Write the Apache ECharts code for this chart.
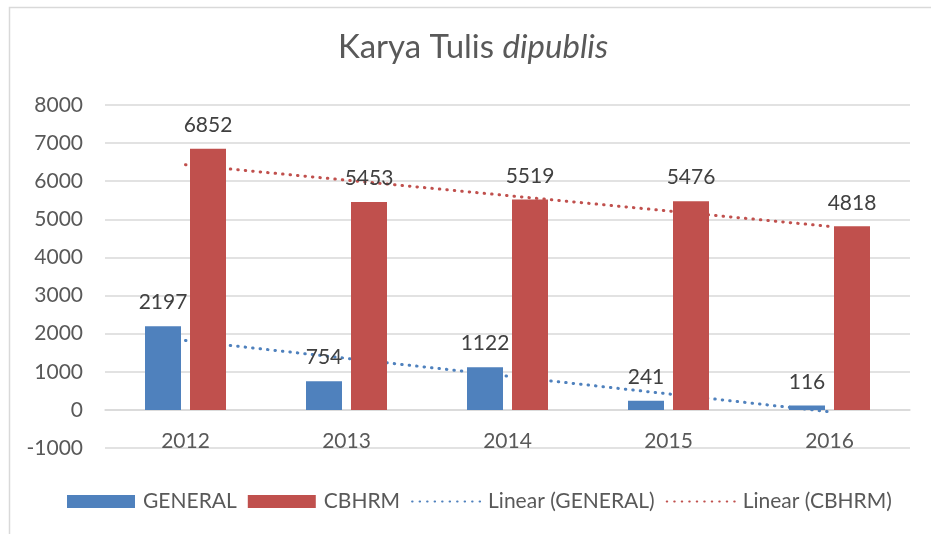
<!DOCTYPE html>
<html>
<head>
<meta charset="utf-8">
<script src="https://cdn.jsdelivr.net/npm/echarts@6/dist/echarts.min.js"></script>
<style>html,body{margin:0;padding:0;background:#fff}#c{width:931px;height:534px}</style>
</head>
<body>
<div id="c"></div>
<script>
var categories = ['2012', '2013', '2014', '2015', '2016'];
var generalValues = [2197, 754, 1122, 241, 116];
var cbhrmValues = [6852, 5453, 5519, 5476, 4818];
var seriesNames = ['GENERAL', 'CBHRM', 'Linear (GENERAL)', 'Linear (CBHRM)'];
var yTicks = { min: -1000, max: 8000, interval: 1000 };

// Excel-style linear trendline (least squares on x = 1..n)
function linearTrend(vals) {
  var n = vals.length, sx = 0, sy = 0, sxx = 0, sxy = 0;
  for (var i = 0; i < n; i++) { var x = i + 1; sx += x; sy += vals[i]; sxx += x * x; sxy += x * vals[i]; }
  var b = (n * sxy - sx * sy) / (n * sxx - sx * sx);
  var a = (sy - b * sx) / n;
  return vals.map(function (_, i) { return a + b * (i + 1); });
}

var BLUE = '#4F81BD', RED = '#C0504D';
var FONT = 'Lato';
var chart = echarts.init(document.getElementById('c'), null, { renderer: 'canvas' });
var dotted = { width: 3, type: [0.5, 7], cap: 'round' };
var hiddenSym = { color: 'rgba(0,0,0,0)', borderWidth: 0, opacity: 0 };
chart.setOption({
  backgroundColor: '#fff',
  animation: false,
  graphic: [{
    type: 'rect', silent: true, z: -10,
    shape: { x: 9.5, y: 7.5, width: 940, height: 540 },
    style: { fill: 'none', stroke: '#d9d9d9', lineWidth: 1.5 }
  }],
  title: {
    text: '{a|Karya Tulis }{b|dipublis}',
    left: 468, top: 26, textAlign: 'center',
    textStyle: {
      fontWeight: 'normal',
      rich: {
        a: { fontFamily: FONT, fontSize: 33, color: '#595959', fontWeight: 'normal' },
        b: { fontFamily: FONT, fontSize: 33, color: '#595959', fontWeight: 'normal', fontStyle: 'italic' }
      }
    }
  },
  legend: {
    left: 62, top: 486,
    itemWidth: 68, itemHeight: 13, itemGap: 11,
    textStyle: { fontFamily: FONT, fontSize: 21, color: '#595959', padding: [0, 0, 0, 3] },
    data: [
      { name: seriesNames[0], icon: 'rect' },
      { name: seriesNames[1], icon: 'rect' },
      { name: seriesNames[2], itemStyle: hiddenSym },
      { name: seriesNames[3], itemStyle: hiddenSym }
    ]
  },
  grid: { left: 105, right: 21, top: 105, bottom: 86, containLabel: false },
  xAxis: {
    type: 'category', data: categories,
    axisLine: { onZero: true, lineStyle: { color: '#d9d9d9', width: 1.5 } },
    axisTick: { show: false },
    axisLabel: { fontFamily: FONT, fontSize: 21, color: '#595959', margin: -17 }
  },
  yAxis: {
    type: 'value', min: yTicks.min, max: yTicks.max, interval: yTicks.interval,
    axisLine: { show: false }, axisTick: { show: false },
    axisLabel: { fontFamily: FONT, fontSize: 21, color: '#595959', margin: 22,
      formatter: function (v) { return String(v); } },
    splitLine: { lineStyle: { color: '#d9d9d9', width: 1.5 } }
  },
  series: [
    {
      name: seriesNames[0], type: 'bar', data: generalValues, z: 3,
      barWidth: 36, barGap: '25%',
      itemStyle: { color: BLUE },
      label: { show: true, position: 'top', distance: 13, fontFamily: FONT, fontSize: 21, color: '#404040' }
    },
    {
      name: seriesNames[1], type: 'bar', data: cbhrmValues, z: 3,
      barWidth: 36,
      itemStyle: { color: RED },
      label: { show: true, position: 'top', distance: 13, fontFamily: FONT, fontSize: 21, color: '#404040' }
    },
    {
      name: seriesNames[2], type: 'line', data: linearTrend(generalValues), z: 1,
      symbol: 'none', silent: true, color: BLUE,
      lineStyle: Object.assign({ color: BLUE }, dotted)
    },
    {
      name: seriesNames[3], type: 'line', data: linearTrend(cbhrmValues), z: 1,
      symbol: 'none', silent: true, color: RED,
      lineStyle: Object.assign({ color: RED }, dotted)
    }
  ]
});
</script>
</body>
</html>
